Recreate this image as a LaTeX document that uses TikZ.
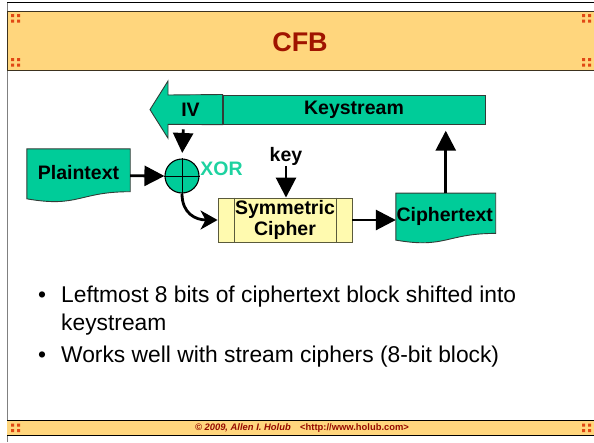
\documentclass[tikz,border=0pt]{standalone}
\usepackage{fontspec}
\setmainfont{Liberation Sans}
\usetikzlibrary{arrows.meta,calc}

\definecolor{cfbteal}{RGB}{0,204,153}
\definecolor{xorteal}{RGB}{30,210,160}
\definecolor{bandfill}{RGB}{255,214,125}
\definecolor{bandline}{RGB}{60,50,30}
\definecolor{titlered}{RGB}{160,20,0}
\definecolor{quadred}{RGB}{225,72,20}
\definecolor{footred}{RGB}{150,10,0}
\definecolor{cipherfill}{RGB}{255,250,175}
\definecolor{cipherline}{RGB}{90,90,60}
\definecolor{shapeline}{RGB}{50,60,55}
\definecolor{framegray}{RGB}{128,128,128}

\tikzset{
  lbl/.style={font=\fontsize{19.5}{21.5}\selectfont\bfseries, inner sep=0pt, align=center},
  tealshape/.style={fill=cfbteal, draw=shapeline, line width=0.9pt},
  boxframe/.style={inner sep=0pt},
  flow/.style={line width=2.8pt, -{Triangle[length=20pt,width=20pt]}},
  curvedflow/.style={line width=2.8pt, -{Stealth[length=17pt,width=19pt,inset=5pt]}},
  bodytext/.style={font=\fontsize{22.8}{27}\selectfont, inner sep=0pt},
  quad/.pic={\fill[quadred] (0,0) rectangle (3,3) (6,0) rectangle (9,3)
                             (0,5.5) rectangle (3,8.5) (6,5.5) rectangle (9,8.5);}
}

\begin{document}
\begin{tikzpicture}[x=1pt,y=-1pt]
\useasboundingbox (0,0) rectangle (594,442);

% slide frame
\draw[black, line width=0.8pt] (7,2.8) -- (594,2.8);
\draw[framegray, line width=1.8pt] (7.5,2.8) -- (7.5,442);

% header band
\fill[bandfill] (7,11) rectangle (594,70.7);
\draw[bandline, line width=1pt] (7,11) -- (594,11) (7,70.7) -- (594,70.7);
\draw[bandline, line width=1.5pt] (7.5,11) -- (7.5,70.7);
\pic at (11,14) {quad};
\pic at (11,58) {quad};
\pic at (582,14) {quad};
\pic at (582,58) {quad};
\node[font=\fontsize{27}{30}\selectfont\bfseries, text=titlered] (title) at (300,42) {CFB};

% footer band
\fill[bandfill] (7,420) rectangle (594,435);
\draw[black, line width=0.9pt] (7,420) -- (594,420) (7,435) -- (594,435);
\pic at (11,423.5) {quad};
\pic at (582,423.5) {quad};
\node[font=\fontsize{9.4}{11}\selectfont\bfseries, text=footred, inner sep=0pt] (foot) at (302,427.8)
  {\itshape\textcopyright{} 2009, Allen I. Holub\upshape\quad <http://www.holub.com>};

% keystream register with IV at its left end
\node[tealshape, boxframe, minimum width=262pt, minimum height=29.3pt, lbl] (ks) at (354,109.6) {Keystream};
\draw[tealshape] (ks.north west) -- (168,95) -- (168,81) -- (150,109.6) -- (168,138.2)
  -- (168,124.3) -- (ks.south west) -- cycle;
\node[lbl] (iv) at (190.5,109.6) {IV};
\coordinate (ivout) at (183.5,124.3);

% XOR gate
\node[circle, minimum size=34pt, inner sep=0pt, fill=cfbteal, draw=black, line width=1.1pt] (xor) at (182,176) {};
\draw[line width=0.9pt] (xor.north) -- (xor.south) (xor.west) -- (xor.east);
\node[lbl, text=xorteal] (xorlbl) at (221.5,169) {XOR};

% plaintext document
\node[boxframe, minimum width=103pt, minimum height=53.5pt] (plain) at (78.5,175.75) {};
\draw[tealshape] (plain.north west) -- (plain.north east) -- ($(plain.north east)+(0,42.9)$)
  .. controls ($(plain.north)+(0,42.9)$) and ($(plain.north)+(0,59.2)$) .. ($(plain.north west)+(0,50)$) -- cycle;
\node[lbl] (plaintxt) at ($(plain.center)+(0,-3.5)$) {Plaintext};

% block cipher
\node[boxframe, fill=cipherfill, draw=cipherline, line width=0.9pt, minimum width=134pt,
      minimum height=44pt, lbl] (cipher) at (285,220) {Symmetric\\Cipher};
\draw[cipherline, line width=0.9pt]
  ($(cipher.north west)+(17,0)$) -- ($(cipher.south west)+(17,0)$)
  ($(cipher.north east)+(-16,0)$) -- ($(cipher.south east)+(-16,0)$);
\node[lbl] (key) at (286,156.5) {key};

% ciphertext document
\node[boxframe, minimum width=99.5pt, minimum height=50.3pt] (ctext) at (445.75,218.45) {};
\draw[tealshape] (ctext.north west) -- (ctext.north east) -- ($(ctext.north east)+(0,40.3)$)
  .. controls ($(ctext.north)+(0,40.3)$) and ($(ctext.north)+(0,55.7)$) .. ($(ctext.north west)+(0,47)$) -- cycle;
\node[lbl] (ctexttxt) at ($(ctext.center)+(-1,-1.5)$) {Ciphertext};

% data flow
\draw[flow, shorten <=5pt, shorten >=5.5pt] (ivout) -- (xor.north);
\draw[flow] (plain.east) -- (xor.west);
\draw[curvedflow] (xor.south) .. controls +(0,20) and +(-22,0) .. (cipher.west);
\draw[flow] (key.south) -- (key.south |- cipher.north);
\draw[flow] (cipher.east) -- (cipher.east -| ctext.west);
\draw[flow, shorten >=6pt] (ctext.north) -- (ctext.north |- ks.south);

% notes
\node[bodytext, anchor=base] (b1) at (42,302) {•};
\node[bodytext, anchor=base west] (t1) at (61,302) {Leftmost 8 bits of ciphertext block shifted into};
\node[bodytext, anchor=base west] (t1b) at (61,330) {keystream};
\node[bodytext, anchor=base] (b2) at (42,362) {•};
\node[bodytext, anchor=base west] (t2) at (61,362) {Works well with stream ciphers (8-bit block)};
\end{tikzpicture}
\end{document}
